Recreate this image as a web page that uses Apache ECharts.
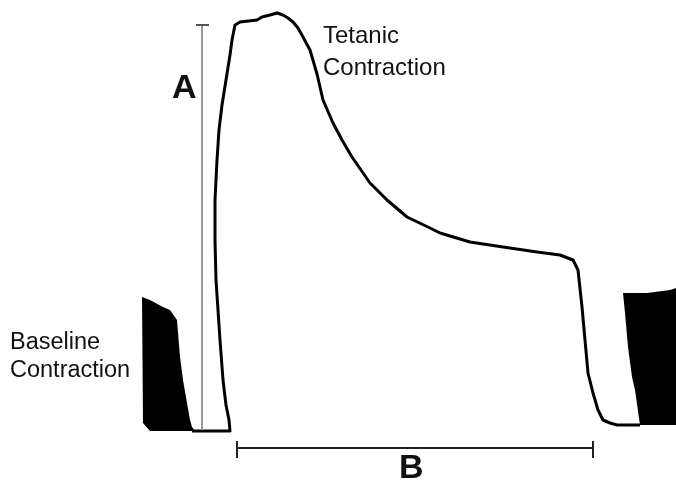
<!DOCTYPE html>
<html>
<head>
<meta charset="utf-8">
<script src="https://cdn.jsdelivr.net/npm/echarts@6/dist/echarts.min.js"></script>
<style>html,body{margin:0;padding:0;background:#fff}#c{width:676px;height:483px}</style>
</head>
<body>
<div id="c"></div>
<script>
// Tetanic contraction trace (x: time units, y: depth units, downwards)
var traceX = [192,210,230,229,226,223,220,218,216,215,215,217,219,222,226,230,232,235,240,257,262,270,277,283,288,293,298,303,310,317,323,333,342,352,370,387,407,430,440,470,503,537,560,573,578,582,585,588,593,598,603,610,617,640];
var traceY = [431,431,431,420,405,380,340,310,280,240,200,160,130,105,80,55,40,25,22,20,17,15,13,15,18,22,28,37,50,74,100,123,140,157,183,200,217,228,233,242,247,252,255,260,270,307,340,373,393,410,420,423,425,425];
// Baseline contraction envelopes (filled)
var baseLeftX = [142,150,163,170,177,180,183,187,190,192,195,150,143];
var baseLeftY = [297,300,307,310,320,357,380,403,420,427,431,431,423];
var baseRightX = [623,647,670,676,676,640,635,632,628,625];
var baseRightY = [293,293,290,288,425,425,390,377,347,313];
// Measurement bars
var barAX = [202,202];
var barAY = [25,430];
var barATickX = [196,209];
var barATickY = [25,25];
var barBX = [237,593];
var barBY = [448,448];
var barBTick1Y = [441,458];
var barBTick2Y = [441,458];

function zip(xs, ys){ return xs.map(function(x,i){ return [x, ys[i]]; }); }

var polys = [zip(baseLeftX, baseLeftY), zip(baseRightX, baseRightY)];

var chart = echarts.init(document.getElementById('c'), null, {renderer:'canvas'});
var font = '"Liberation Sans", Arial, sans-serif';
chart.setOption({
  animation: false,
  grid: {left:0, right:0, top:0, bottom:0},
  xAxis: {type:'value', min:0, max:676, show:false},
  yAxis: {type:'value', min:0, max:483, inverse:true, show:false},
  series: [
    {
      type:'custom', clip:false, silent:true,
      data: [[0,0],[1,0]],
      renderItem: function(params, api){
        var pts = polys[params.dataIndex].map(function(p){ return api.coord(p); });
        return {type:'polygon', shape:{points:pts}, style:{fill:'#000'}};
      }
    },
    {type:'line', data: zip(traceX, traceY), symbol:'none', clip:false,
     lineStyle:{color:'#000', width:3, join:'round'}},
    {type:'line', data: zip(barAX, barAY), symbol:'none', lineStyle:{color:'#999', width:2}},
    {type:'line', data: zip(barATickX, barATickY), symbol:'none', lineStyle:{color:'#555', width:2}},
    {type:'line', data: zip(barBX, barBY), symbol:'none', lineStyle:{color:'#222', width:2}},
    {type:'line', data: zip([barBX[0],barBX[0]], barBTick1Y), symbol:'none', lineStyle:{color:'#222', width:2}},
    {type:'line', data: zip([barBX[1],barBX[1]], barBTick2Y), symbol:'none', lineStyle:{color:'#222', width:2}}
  ],
  graphic: [
    {type:'text', left:323, top:24, style:{text:'Tetanic', font:'24px '+font, fill:'#111'}},
    {type:'text', left:323, top:56, style:{text:'Contraction', font:'24px '+font, fill:'#111'}},
    {type:'text', left:10, top:331, style:{text:'Baseline', font:'23.5px '+font, fill:'#111'}},
    {type:'text', left:10, top:359, style:{text:'Contraction', font:'23.5px '+font, fill:'#111'}},
    {type:'text', left:172, top:72, style:{text:'A', font:'bold 34px '+font, fill:'#111'}},
    {type:'text', left:399, top:452, style:{text:'B', font:'bold 34px '+font, fill:'#111'}}
  ]
});
</script>
</body>
</html>
